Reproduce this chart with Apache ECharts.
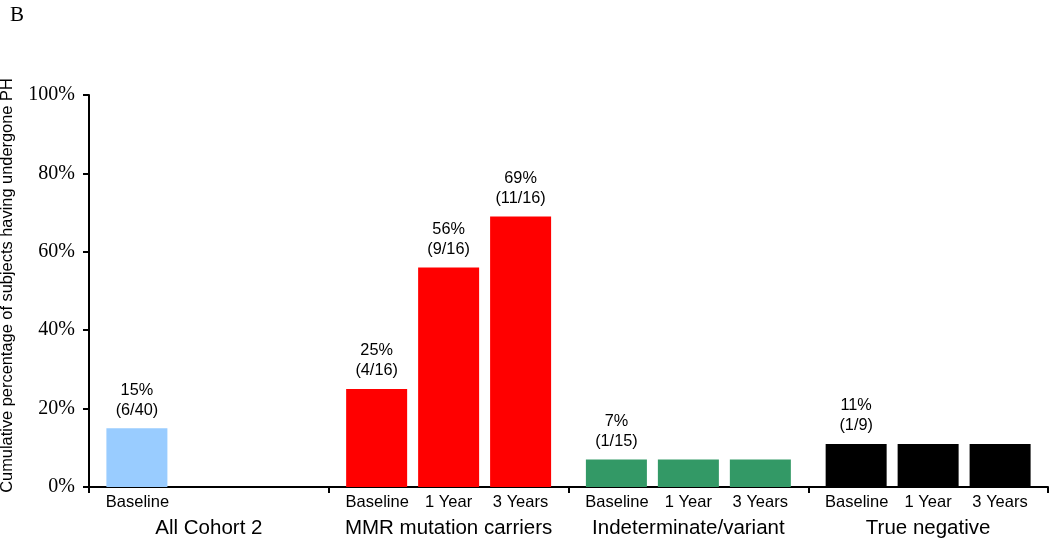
<!DOCTYPE html>
<html>
<head>
<meta charset="utf-8">
<script src="https://cdn.jsdelivr.net/npm/echarts@6/dist/echarts.min.js"></script>
<style>html,body{margin:0;padding:0;background:#fff;}#c{width:1050px;height:540px;}</style>
</head>
<body>
<div id="c"></div>
<script>
const groups = ['All Cohort 2', 'MMR mutation carriers', 'Indeterminate/variant', 'True negative'];
const timepoints = ['Baseline', '1 Year', '3 Years'];
const baselineValues = [15, 25, 7, 11];
const oneYearValues = [null, 56, 7, 11];
const threeYearValues = [null, 69, 7, 11];
const baselineFractions = ['6/40', '4/16', '1/15', '1/9'];
const oneYearFractions = [null, '9/16', null, null];
const threeYearFractions = [null, '11/16', null, null];
const groupColors = ['#99CCFF', '#FF0000', '#339966', '#000000'];
const yTicks = [0, 20, 40, 60, 80, 100];

// sub-labels: one per bar slot (3 per group); first group only has Baseline
const subLabels = [];
groups.forEach((g, gi) => {
  timepoints.forEach((t, ti) => {
    const vals = [baselineValues, oneYearValues, threeYearValues][ti];
    subLabels.push(vals[gi] == null ? '' : t);
  });
});

const sans = 'Liberation Sans, Arial, sans-serif';
const serif = 'Liberation Serif, Times New Roman, serif';
const subSize = 16.5;

function mkSeries(name, vals, fracs) {
  return {
    name: name,
    type: 'bar',
    xAxisIndex: 0,
    barWidth: 61,
    barGap: '18%',
    data: vals.map((v, i) => ({
      value: v,
      itemStyle: { color: groupColors[i] },
      label: fracs[i] ? { show: true } : { show: false }
    })),
    label: {
      position: 'top',
      distance: 8,
      fontFamily: sans,
      fontSize: 16.3,
      lineHeight: 20,
      color: '#000',
      formatter: p => p.value + '%\n(' + fracs[p.dataIndex] + ')'
    },
    animation: false
  };
}

const chart = echarts.init(document.getElementById('c'), null, { renderer: 'canvas' });
chart.setOption({
  animation: false,
  title: {
    text: 'B', left: 5, top: 0,
    textStyle: { fontFamily: serif, fontSize: 21, fontWeight: 'normal', color: '#000' }
  },
  grid: { left: 89, right: 2, top: 95, bottom: 53, containLabel: false, outerBoundsMode: 'none' },
  xAxis: [
    {
      type: 'category',
      data: groups,
      position: 'bottom',
      axisLine: { show: true, lineStyle: { color: '#000', width: 2 } },
      axisTick: { show: true, length: 6, inside: false, lineStyle: { color: '#000', width: 2 } },
      axisLabel: { margin: 31, fontFamily: sans, fontSize: 20.5, color: '#000', interval: 0 },
      splitLine: { show: false }
    },
    {
      type: 'category',
      data: subLabels,
      position: 'bottom',
      axisLine: { show: false },
      axisTick: { show: false },
      axisLabel: {
        margin: 7, interval: 0, color: '#000', fontFamily: sans, fontSize: subSize,
        formatter: (v, i) => {
          const k = i % 3;
          return k === 0 ? '{a|' + v + '}' : (k === 2 ? '{c|' + v + '}' : '{b|' + v + '}');
        },
        rich: {
          a: { padding: [0, 0, 0, 17], fontFamily: sans, fontSize: subSize, color: '#000' },
          b: { fontFamily: sans, fontSize: subSize, color: '#000' },
          c: { padding: [0, 16, 0, 0], fontFamily: sans, fontSize: subSize, color: '#000' }
        }
      },
      splitLine: { show: false }
    }
  ],
  yAxis: {
    type: 'value',
    min: 0, max: 100, interval: 20,
    name: 'Cumulative percentage of subjects having undergone PH',
    nameLocation: 'middle',
    nameGap: 74,
    nameTextStyle: { fontFamily: sans, fontSize: 16.4, color: '#000', padding: [0, 0, 0, 11] },
    axisLine: { show: true, lineStyle: { color: '#000', width: 2 } },
    axisTick: { show: true, length: 6, lineStyle: { color: '#000', width: 2 } },
    axisLabel: {
      margin: 14, fontFamily: serif, fontSize: 20, color: '#000',
      formatter: v => yTicks.indexOf(v) >= 0 ? v + '%' : ''
    },
    splitLine: { show: false }
  },
  series: [
    mkSeries(timepoints[0], baselineValues, baselineFractions),
    mkSeries(timepoints[1], oneYearValues, oneYearFractions),
    mkSeries(timepoints[2], threeYearValues, threeYearFractions)
  ]
});
</script>
</body>
</html>
